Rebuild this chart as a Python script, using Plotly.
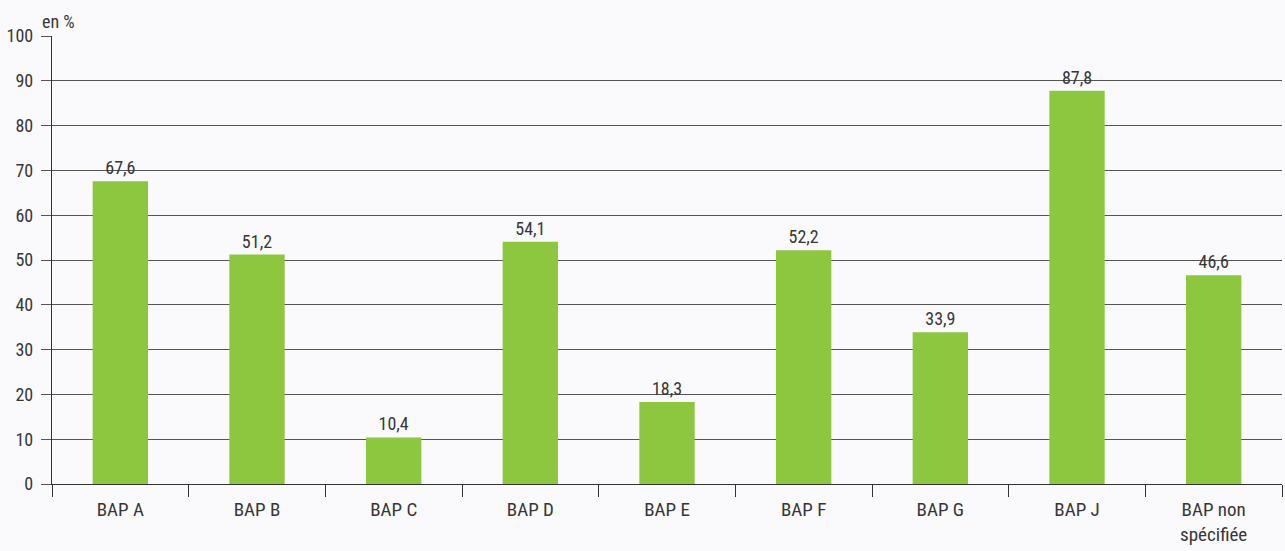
import plotly.graph_objects as go

categories = ["BAP A", "BAP B", "BAP C", "BAP D", "BAP E", "BAP F", "BAP G", "BAP J", "BAP non<br>spécifiée"]
values = [67.6, 51.2, 10.4, 54.1, 18.3, 52.2, 33.9, 87.8, 46.6]
y_ticks = [0, 10, 20, 30, 40, 50, 60, 70, 80, 90, 100]

FONT = "Roboto Condensed, Liberation Sans Narrow, Roboto, sans-serif"
TXT = "#363636"
GRID = "#555555"
BG = "#FAFAFC"

fig = go.Figure(go.Bar(
    x=categories, y=values,
    marker=dict(color="#8DC63F", line=dict(width=0)),
    width=0.405,
    texttemplate="%{y:.1f}", textposition="outside",
    textfont=dict(family=FONT, size=18, color=TXT),
    cliponaxis=False,
))

fig.update_layout(
    width=1285, height=551,
    margin=dict(l=52, r=3, t=36, b=67),
    paper_bgcolor=BG, plot_bgcolor=BG,
    separators=", ",
    showlegend=False,
    font=dict(family=FONT, size=18, color=TXT),
    xaxis=dict(
        tickson="boundaries", ticks="outside", ticklen=12, tickwidth=1.3, tickcolor="#333",
        showline=True, linecolor="#333", linewidth=1.3,
        showgrid=False, tickfont=dict(family=FONT, size=19, color=TXT),
        ticklabelstandoff=8,
    ),
    yaxis=dict(
        range=[0, 100], tickvals=y_ticks,
        showgrid=True, gridcolor=GRID, gridwidth=1,
        ticks="outside", ticklen=10, tickcolor=GRID, tickwidth=1,
        showline=True, linecolor="#333", linewidth=1.3,
        zeroline=False, ticklabelstandoff=4,
        tickfont=dict(family=FONT, size=18, color=TXT),
    ),
    annotations=[dict(text="en %", xref="paper", yref="paper", x=0, y=1, xanchor="left",
                      yanchor="bottom", xshift=-12, yshift=2, showarrow=False,
                      font=dict(family=FONT, size=18, color=TXT))],
)

fig.write_html("out.html", config={"displayModeBar": False},
               post_script="document.body.style.margin='0';document.body.style.background='#FAFAFC';")
